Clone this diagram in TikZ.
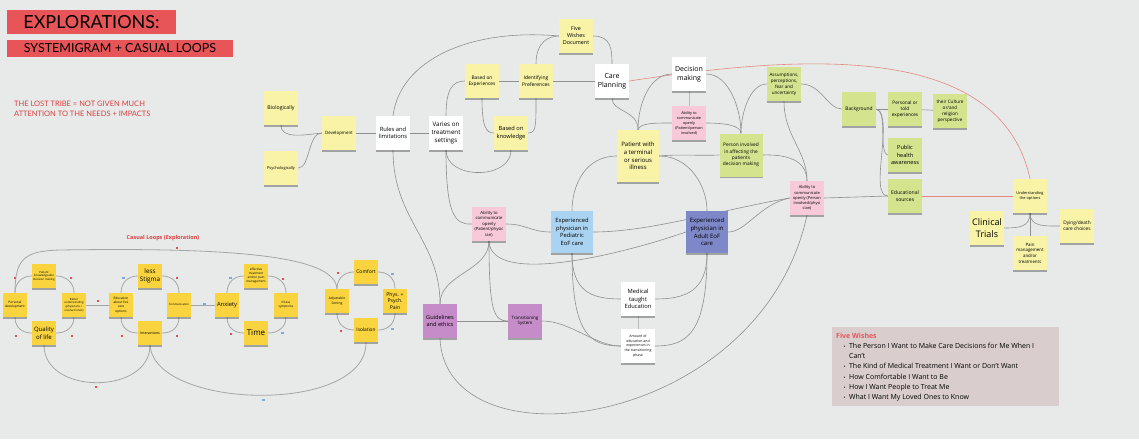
\documentclass[tikz,border=0pt]{standalone}
\usepackage{fontspec}
\setmainfont{Open Sans}
\newfontfamily\titlefont{Lato}
\usepackage{xcolor}
\usetikzlibrary{shadows}
\definecolor{canvas}{HTML}{E8E9E9}
\definecolor{titlered}{HTML}{E85558}
\definecolor{tribered}{HTML}{D9403F}
\definecolor{paleyel}{HTML}{F8F3A6}
\definecolor{leafgreen}{HTML}{D4E38E}
\definecolor{notepink}{HTML}{F7C9D9}
\definecolor{skyblue}{HTML}{A9D3F1}
\definecolor{slateblue}{HTML}{7E87C8}
\definecolor{mauve}{HTML}{C68BC9}
\definecolor{loopyel}{HTML}{F9D43E}
\definecolor{wishbg}{HTML}{D9CDCD}
\definecolor{linkgray}{HTML}{8F8F8F}
\definecolor{loopgray}{HTML}{A5A5A5}
\definecolor{redlink}{HTML}{E28A7E}
\definecolor{plusred}{HTML}{E0504F}
\definecolor{minusblue}{HTML}{7EAAE0}
\pgfdeclarelayer{bg}
\pgfsetlayers{bg,main}

\tikzset{
  fs/.style={font=\fontsize{#1}{\fpeval{1.3*#1}}\selectfont},
  note/.style={minimum width=34, minimum height=34, inner sep=1pt, align=center,
    drop shadow={shadow xshift=0pt, shadow yshift=-1.6pt, opacity=0.3, fill=black}},
  whitenote/.style={note, fill=white},
  palenote/.style={note, fill=paleyel},
  greennote/.style={note, fill=leafgreen},
  pinkn/.style={note, fill=notepink},
  bignote/.style={note, minimum width=42, minimum height=42},
  loopnote/.style={note, fill=loopyel, minimum width=24, minimum height=24, inner sep=0.5pt},
  conn/.style={draw=linkgray, line width=0.6pt},
  redconn/.style={draw=redlink, line width=0.6pt},
  loopconn/.style={draw=loopgray, line width=0.8pt},
  titlebar/.style={fill=titlered, inner sep=0pt}
}

\begin{document}
\begin{tikzpicture}[x=1pt,y=-1pt]
\useasboundingbox (0,0) rectangle (1139,439);
\begin{pgfonlayer}{bg}
  \fill[canvas] (0,0) rectangle (1139,439);
\end{pgfonlayer}

\node[titlebar, minimum width=169, minimum height=24, font=\titlefont\fontsize{18}{18}\selectfont] (expl) at (91.5,22) {EXPLORATIONS:};
\node[titlebar, minimum width=226, minimum height=17, font=\titlefont\fontsize{12.5}{12.5}\selectfont] (sysloop) at (120,48.5) {SYSTEMIGRAM + CASUAL LOOPS};
\node[anchor=north west, inner sep=0, align=left, text=tribered, font=\titlefont\fontsize{7.5}{10}\selectfont] (tribe) at (14,101) {THE LOST TRIBE = NOT GIVEN MUCH\\ATTENTION TO THE NEEDS + IMPACTS};

\node[palenote, fs=5.2] (bio) at (281,108) {Biologically};
\node[palenote, fs=4] (psy) at (281,168) {Psychologically};
\node[palenote, fs=4.4] (dev) at (339,133) {Development};
\node[whitenote, fs=5.8] (rules) at (393,133) {Rules and\\limitations};
\node[whitenote, fs=6.2] (varies) at (446,133) {Varies on\\treatment\\settings};
\node[palenote, fs=4.8] (basedexp) at (482,81) {Based on\\Experiences};
\node[palenote, fs=5] (identpref) at (536,81) {Identifying\\Preferences};
\node[palenote, fs=5.7] (basedknow) at (511,133) {Based on\\knowledge};
\node[palenote, fs=5.4] (fivewish) at (576,36) {Five\\Wishes\\Document};
\node[whitenote, fs=7] (careplan) at (612,81) {Care\\Planning};
\node[whitenote, fs=7] (decision) at (689,74) {Decision\\making};
\node[pinkn, fs=3.8] (abil1) at (689,123) {Ability to\\communicate\\openly\\(Patient/person\\involved)};
\node[palenote, fs=6, minimum width=42, minimum height=52] (patient) at (638,156) {Patient with\\a terminal\\or serious\\illness};
\node[greennote, fs=4.8, minimum width=43, minimum height=43] (personinv) at (741,155) {Person involved\\in affecting the\\patients\\decision making};
\node[greennote, fs=4.6] (assump) at (784,84) {Assumptions,\\perceptions,\\fear and\\uncertainty};
\node[greennote, fs=4.9] (backgr) at (859,109) {Background};
\node[greennote, fs=4.7] (persexp) at (905,109) {Personal or\\told\\experiences};
\node[greennote, fs=4.6] (culture) at (950,111) {their Culture\\or/and\\religion\\perspective};
\node[greennote, fs=5.6] (pubhealth) at (905,155) {Public\\health\\awareness};
\node[greennote, fs=5.1] (edusrc) at (905,196) {Educational\\sources};
\node[pinkn, fs=4] (abil2) at (807,198) {Ability to\\communicate\\openly (Person\\involved/physi\\cian)};
\node[palenote, fs=3.9] (understand) at (1030,196) {Understanding\\the options};
\node[palenote, fs=9] (clinical) at (987,228) {Clinical\\Trials};
\node[palenote, fs=4.4] (pain) at (1030,253) {Pain\\management\\and/or\\treatments};
\node[palenote, fs=4.8] (dying) at (1077,226) {Dying/death\\care choices};

\node[pinkn, fs=4.2] (abil3) at (489,224) {Ability to\\communicate\\openly\\(Patient/physic\\ian)};
\node[bignote, fill=skyblue, fs=5.8] (pedi) at (572,232) {Experienced\\physician in\\Pediatric\\EoF care};
\node[bignote, fill=slateblue, fs=6] (adult) at (707,232) {Experienced\\physician in\\Adult EoF\\care};
\node[whitenote, fs=5.8] (medical) at (638,299) {Medical\\taught\\Education};
\node[whitenote, fs=3.5] (amount) at (638,346) {Amount of\\education and\\experiences in\\the transitioning\\phase};
\node[note, fill=mauve, fs=5.6] (guide) at (440,321) {Guidelines\\and ethics};
\node[note, fill=mauve, fs=4.4] (transys) at (525,321) {Transitioning\\System};

\node[text=tribered, font=\bfseries\fontsize{5.5}{5.5}\selectfont] (looptitle) at (163,238) {Casual Loops (Exploration)};
\node[loopnote, fs=2.8] (pkdm) at (44,276) {Patient\\knowledgeable\\Decision making};
\node[loopnote, fs=3.2] (persdev) at (15,305) {Personal\\development};
\node[loopnote, fs=2.8] (betteru) at (74,305) {Better\\understanding\\(physicians +\\involved ones)};
\node[loopnote, fs=6] (quality) at (44,333) {Quality\\of life};
\node[loopnote, fs=3.2] (eduoel) at (121,305) {Education\\about EoL\\care\\options};
\node[loopnote, fs=6.3] (stigma) at (150,276) {less\\Stigma};
\node[loopnote, fs=2.7] (commun) at (179,305) {Communication};
\node[loopnote, fs=3.6] (interact) at (150,333) {Interactions};
\node[loopnote, fs=3.1] (efftreat) at (256,276) {effective\\treatment\\and/or pain\\management};
\node[loopnote, fs=5.8] (anxiety) at (227,305) {Anxiety};
\node[loopnote, fs=3] (illness) at (286,305) {Illness\\symptoms};
\node[loopnote, fs=8] (time) at (256,333) {Time};
\node[loopnote, fs=3.3] (adjset) at (337,301) {Adjustable\\Setting};
\node[loopnote, fs=5] (comfort) at (366,272) {Comfort};
\node[loopnote, fs=5.1] (physpain) at (395,301) {Phys. +\\Psych.\\Pain};
\node[loopnote, fs=4.8] (isolat) at (366,330) {Isolation};

\node[fill=wishbg, minimum width=227, minimum height=79, inner sep=0] (wishbox) at (945.5,366.5) {};
\node[anchor=north west, inner sep=0, font=\fontsize{7}{10.2}\selectfont] (wishtext) at (836,331) {%
  \begin{tabular}{@{\hspace{7.5pt}}c@{\hspace{3.5pt}}l@{}}
  \multicolumn{2}{@{}l@{}}{\textcolor{titlered}{\bfseries Five Wishes}}\\
  {\fontsize{5}{5}\selectfont\textbullet} & The Person I Want to Make Care Decisions for Me When I\\
   & Can’t\\
  {\fontsize{5}{5}\selectfont\textbullet} & The Kind of Medical Treatment I Want or Don’t Want\\
  {\fontsize{5}{5}\selectfont\textbullet} & How Comfortable I Want to Be\\
  {\fontsize{5}{5}\selectfont\textbullet} & How I Want People to Treat Me\\
  {\fontsize{5}{5}\selectfont\textbullet} & What I Want My Loved Ones to Know
  \end{tabular}};

\begin{pgfonlayer}{bg}
\draw[conn] (bio.south) .. controls +(0,14) and +(-18,2) .. (dev.west);
\draw[conn] (psy.east) .. controls +(12,0) and +(-14,0) .. (dev.west);
\draw[conn] (dev) -- (rules);
\draw[conn] (rules) -- (varies);
\draw[conn] (rules.north) .. controls (400,60) and (470,28) .. (fivewish.west);
\draw[conn] (rules.south) .. controls (393,220) and (440,240) .. (guide.north);
\draw[conn] (varies.north) .. controls (446,90) and (452,81) .. (basedexp.west);
\draw[conn] (varies.south) .. controls (446,215) and (455,225) .. (abil3.west);
\draw[conn] (varies.south) .. controls (446,180) and (511,180) .. (basedknow.south);
\draw[conn] (basedexp) -- (identpref);
\draw[conn] (identpref) -- (careplan);
\draw[conn] (basedexp.south) .. controls +(0,28) and +(-8,0) .. (basedknow.west);
\draw[conn] (identpref.south) .. controls +(0,28) and +(8,0) .. (basedknow.east);
\draw[conn] (identpref.north) .. controls +(0,-22) and +(-10,0) .. (fivewish.west);
\draw[conn] (fivewish.east) .. controls +(18,0) and +(0,-14) .. (careplan.north);
\draw[redconn] (careplan.east) .. controls (800,55) and (1000,40) .. (understand.north);
\draw[conn] (careplan.south) .. controls +(0,14) and +(0,-20) .. (patient.north);
\draw[conn] (decision.west) .. controls +(-22,0) and +(0,-26) .. (patient.north);
\draw[conn] (abil1.west) .. controls +(-17,0) and +(2,-7) .. (patient.north);
\draw[conn, linkgray!60] (decision) -- (abil1);
\draw[conn] (decision.east) .. controls +(23,0) and +(0,-24) .. (personinv.north);
\draw[conn] (abil1.east) .. controls +(18,0) and +(0,-8) .. (personinv.north);
\draw[conn] (assump.west) .. controls +(-17,0) and +(0,-20) .. (personinv.north);
\draw[conn] (patient.east) .. controls +(20,-2) and +(-20,1) .. (personinv.west);
\draw[conn] (patient.east) .. controls +(30,0) and +(0,-25) .. (adult.north);
\draw[conn] (patient.west) .. controls +(-32,0) and +(0,-25) .. (pedi.north);
\draw[conn] (personinv.east) .. controls +(32,-1) and +(0,-16) .. (abil2.north);
\draw[conn] (assump.south) .. controls +(0,35) and +(0,-30) .. (abil2.north);
\draw[conn] (assump.east) .. controls +(20,0) and +(-14,0) .. (backgr.west);
\draw[conn] (backgr) -- (persexp);
\draw[conn] (persexp) -- (culture);
\draw[conn] (backgr.east) .. controls (888,110) and (878,152) .. (pubhealth.west);
\draw[conn] (backgr.east) .. controls (895,116) and (868,196) .. (edusrc.west);
\draw[conn] (abil2.east) -- (edusrc.west);
\draw[redconn] (edusrc) -- (understand);
\draw[conn] (understand.south) .. controls +(0,14) and +(14,0) .. (clinical.east);
\draw[conn] (understand.south) .. controls +(0,14) and +(-14,0) .. (dying.west);
\draw[conn] (understand) -- (pain);
\draw[conn] (pedi.east) .. controls (650,232) and (720,210) .. (abil2.west);
\draw[conn] (adult.east) .. controls +(18,0) and +(-30,6) .. (abil2.west);
\draw[conn] (abil3.east) .. controls +(20,0) and +(-20,0) .. (pedi.west);
\draw[conn] (abil3.south) .. controls +(0,30) and +(0,-30) .. (guide.north);
\draw[conn] (abil3.south) .. controls +(0,70) and +(-14,0) .. (transys.west);
\draw[conn] (abil3.south) .. controls +(2,45) and (620,255) .. (adult.west);
\draw[conn] (guide) -- (transys);
\draw[conn] (transys.east) .. controls +(28,0) and +(-26,0) .. (amount.west);
\draw[conn] (pedi.south) .. controls +(0,38) and +(-30,0) .. (medical.west);
\draw[conn] (pedi.south) .. controls +(0,80) and +(-32,0) .. (amount.west);
\draw[conn] (adult.south) .. controls +(0,38) and +(30,0) .. (medical.east);
\draw[conn] (adult.south) .. controls +(0,80) and +(32,0) .. (amount.east);
\draw[conn, linkgray!60] (medical) -- (amount);
\draw[conn] (guide.south) .. controls (445,470) and (760,430) .. (abil2.south);

\draw[loopconn] (persdev.north) .. controls (15,258) and (25,251) .. (60,250) .. controls (250,247) and (335,258) .. (adjset.north);
\draw[loopconn] (persdev.north) .. controls +(0,-10) and +(-10,0) .. (pkdm.west);
\draw[loopconn] (pkdm.east) .. controls +(10,0) and +(0,-10) .. (betteru.north);
\draw[loopconn] (betteru.south) .. controls +(0,10) and +(10,0) .. (quality.east);
\draw[loopconn] (quality.west) .. controls +(-10,0) and +(0,10) .. (persdev.south);
\draw[loopconn] (betteru) -- (eduoel);
\draw[loopconn] (eduoel.north) .. controls +(0,-10) and +(-10,0) .. (stigma.west);
\draw[loopconn] (stigma.east) .. controls +(10,0) and +(0,-10) .. (commun.north);
\draw[loopconn] (commun.south) .. controls +(0,10) and +(10,0) .. (interact.east);
\draw[loopconn] (interact.west) .. controls +(-10,0) and +(0,10) .. (eduoel.south);
\draw[loopconn] (commun) -- (anxiety);
\draw[loopconn] (anxiety.north) .. controls +(0,-10) and +(-10,0) .. (efftreat.west);
\draw[loopconn] (efftreat.east) .. controls +(10,0) and +(0,-10) .. (illness.north);
\draw[loopconn] (illness.south) .. controls +(0,10) and +(10,0) .. (time.east);
\draw[loopconn] (time.west) .. controls +(-10,0) and +(0,10) .. (anxiety.south);
\draw[loopconn] (adjset.north) .. controls +(0,-10) and +(-10,0) .. (comfort.west);
\draw[loopconn] (comfort.east) .. controls +(10,0) and +(0,-10) .. (physpain.north);
\draw[loopconn] (physpain.south) .. controls +(0,10) and +(10,0) .. (isolat.east);
\draw[loopconn] (isolat.west) .. controls +(-10,0) and +(0,10) .. (adjset.south);
\draw[loopconn] (interact.south) .. controls +(0,50) and +(0,50) .. (quality.south);
\draw[loopconn] (interact.south) .. controls (155,410) and (367,415) .. (isolat.south);
\end{pgfonlayer}

\foreach \mx/\my in {177/248,15/278,71/278,98/301,16/336,72/336,177/278,122/336,177/336,96/387,283/279,231/334,338/273,341/331}
  \path[fill=plusred] (\mx-1.2,\my-1.2) rectangle ++(2.4,2.4);
\foreach \mx/\my in {123/278,204/304,230/278,282/333,392/274,392/329,263/400}
  \path[fill=minusblue] (\mx-1.5,\my-0.6) rectangle ++(3,1.2);
\end{tikzpicture}
\end{document}
